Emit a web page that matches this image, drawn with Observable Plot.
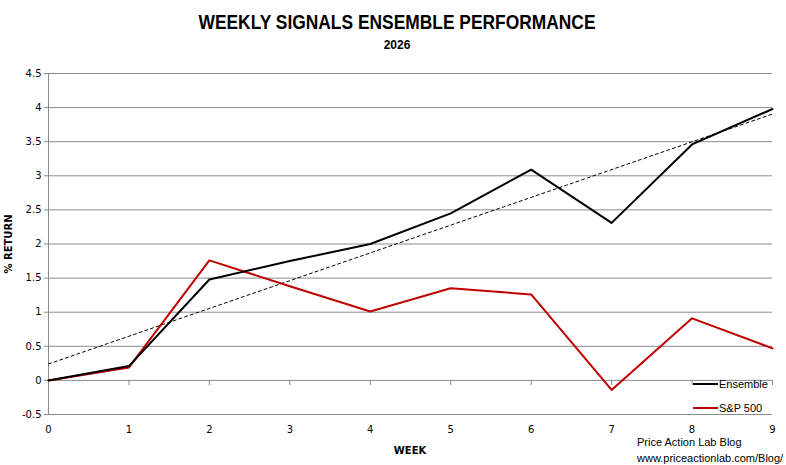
<!DOCTYPE html>
<html>
<head>
<meta charset="utf-8">
<script src="https://cdn.jsdelivr.net/npm/d3@7"></script>
<script src="https://cdn.jsdelivr.net/npm/@observablehq/plot@0.6"></script>
<style>
  html, body { margin: 0; padding: 0; background: #ffffff; }
  #wrap { position: relative; width: 786px; height: 465px; }
  .leg { position: absolute; font-family: "Liberation Sans", Arial, sans-serif; font-size: 11px; color: #000; line-height: 12px; }
  .legline { position: absolute; height: 2px; width: 25px; }
  .credit { position: absolute; left: 637px; font-family: "Liberation Sans", Arial, sans-serif; font-size: 11px; color: #000; line-height: 12px; }
</style>
</head>
<body>
<div id="wrap"></div>
<script>
const title = "WEEKLY SIGNALS ENSEMBLE PERFORMANCE";
const subtitle = "2026";
const xLabel = "WEEK";
const yLabel = "% RETURN";
const weeks = [0, 1, 2, 3, 4, 5, 6, 7, 8, 9];
const ensemble = [0, 0.21, 1.48, 1.75, 2.0, 2.45, 3.09, 2.31, 3.46, 3.98];
const sp500 = [0, 0.19, 1.76, 1.38, 1.01, 1.35, 1.26, -0.14, 0.91, 0.47];
const yTicks = [-0.5, 0, 0.5, 1, 1.5, 2, 2.5, 3, 3.5, 4, 4.5];
const seriesNames = ["Ensemble", "S&P 500"];
const seriesColors = ["#000000", "#c00000"];

const ensData = weeks.map((w, i) => ({week: w, value: ensemble[i]}));
const spData = weeks.map((w, i) => ({week: w, value: sp500[i]}));
const grid = "#8a8a8a";

const chart = Plot.plot({
  width: 786,
  height: 465,
  marginLeft: 48,
  marginRight: 14,
  marginTop: 73,
  marginBottom: 51,
  style: {fontFamily: "'DejaVu Sans', sans-serif", fontSize: "10px", background: "#ffffff", color: "#000"},
  x: {domain: [0, 9], label: null},
  y: {domain: [-0.5, 4.5], label: null},
  marks: [
    Plot.ruleY(yTicks, {stroke: grid, strokeWidth: 1}),
    Plot.ruleX([0], {stroke: grid, strokeWidth: 1}),
    Plot.ruleX(weeks, {x: d => d, y1: 0, y2: -0.075, stroke: grid}),
    Plot.axisY({ticks: yTicks, tickFormat: d => String(d), tickSize: 4, tickPadding: 3, stroke: grid, label: null}),
    Plot.axisX({ticks: weeks, tickFormat: d => String(d), tickSize: 0, tickPadding: 11, label: null}),
    Plot.linearRegressionY(ensData, {x: "week", y: "value", ci: 0, stroke: "#000", strokeWidth: 1, strokeDasharray: "3,3"}),
    Plot.line(spData, {x: "week", y: "value", stroke: seriesColors[1], strokeWidth: 2}),
    Plot.line(ensData, {x: "week", y: "value", stroke: seriesColors[0], strokeWidth: 2})
  ]
});

const wrap = document.getElementById("wrap");
wrap.appendChild(chart);

const svg = d3.select(chart);
svg.append("text")
  .attr("x", 397).attr("y", 29)
  .attr("text-anchor", "middle")
  .attr("textLength", 397).attr("lengthAdjust", "spacingAndGlyphs")
  .style("font-family", "'Liberation Sans', Arial, sans-serif")
  .style("font-size", "20px").style("font-weight", "bold")
  .text(title);
svg.append("text")
  .attr("x", 397).attr("y", 49)
  .attr("text-anchor", "middle")
  .style("font-family", "'Liberation Sans', Arial, sans-serif")
  .style("font-size", "12px").style("font-weight", "bold")
  .text(subtitle);
svg.append("text")
  .attr("x", 410).attr("y", 454)
  .attr("text-anchor", "middle")
  .style("font-family", "'DejaVu Sans', sans-serif")
  .style("font-size", "10px").style("font-weight", "bold")
  .text(xLabel);
svg.append("text")
  .attr("transform", "translate(12,244) rotate(-90)")
  .attr("text-anchor", "middle")
  .style("font-family", "'DejaVu Sans', sans-serif")
  .style("font-size", "10px").style("font-weight", "bold")
  .text(yLabel);

// legend
const legY = [384, 408];
seriesNames.forEach((name, i) => {
  const l = document.createElement("div");
  l.className = "legline";
  l.style.left = "693px";
  l.style.top = (legY[i] - 1) + "px";
  l.style.background = seriesColors[i];
  wrap.appendChild(l);
  const t = document.createElement("div");
  t.className = "leg";
  t.style.left = "719px";
  t.style.top = (legY[i] - 6) + "px";
  t.textContent = name;
  wrap.appendChild(t);
});

const credits = ["Price Action Lab Blog", "www.priceactionlab.com/Blog/"];
credits.forEach((c, i) => {
  const d = document.createElement("div");
  d.className = "credit";
  d.style.top = (436 + i * 16) + "px";
  d.textContent = c;
  wrap.appendChild(d);
});
</script>
</body>
</html>
